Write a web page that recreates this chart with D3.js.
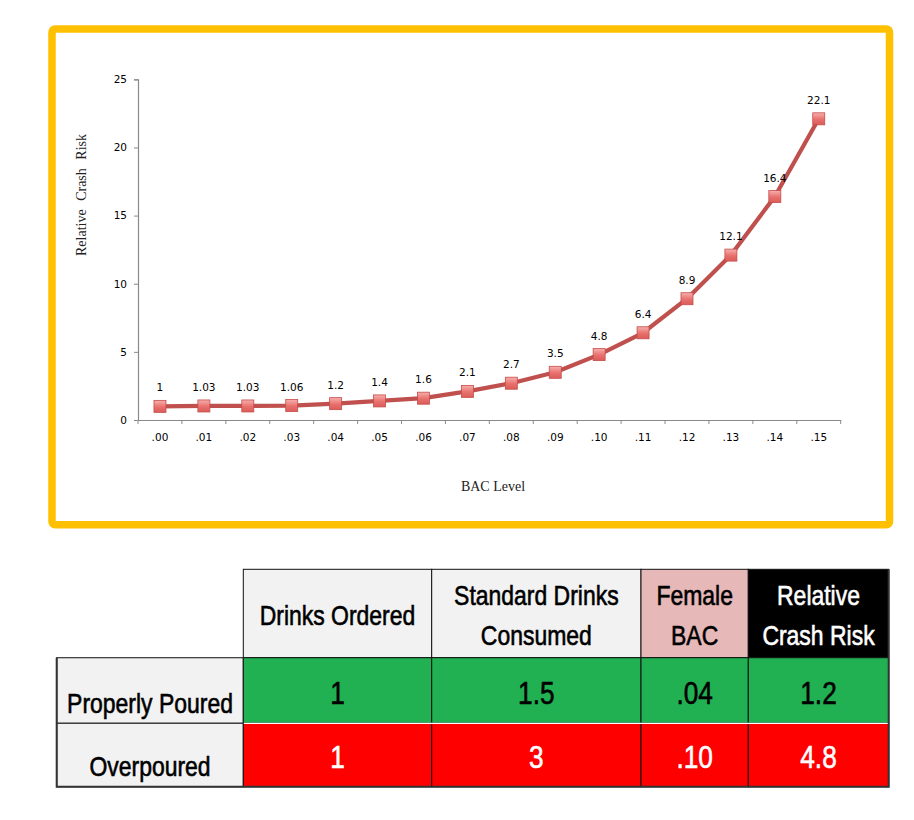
<!DOCTYPE html>
<html>
<head>
<meta charset="utf-8">
<script src="https://cdn.jsdelivr.net/npm/d3@7"></script>
<style>
  body { margin: 0; background: #fff; }
  svg { display: block; }
</style>
</head>
<body>
<svg id="chart"></svg>
<script>
// chart data
const bacLevels = [".00", ".01", ".02", ".03", ".04", ".05", ".06", ".07",
                   ".08", ".09", ".10", ".11", ".12", ".13", ".14", ".15"];
const crashRisk = [1, 1.03, 1.03, 1.06, 1.2, 1.4, 1.6, 2.1,
                   2.7, 3.5, 4.8, 6.4, 8.9, 12.1, 16.4, 22.1];
const yTicks = [0, 5, 10, 15, 20, 25];

// table data
const colHeaders = [["Drinks Ordered"], ["Standard Drinks", "Consumed"], ["Female", "BAC"], ["Relative", "Crash Risk"]];
const rowLabels = ["Properly Poured", "Overpoured"];
const tableValues = [["1", "1.5", ".04", "1.2"],
                     ["1", "3", ".10", "4.8"]];

const width = 914, height = 820;
const svg = d3.select("#chart").attr("width", width).attr("height", height);

// gradient for the square markers
const grad = svg.append("defs").append("linearGradient")
  .attr("id", "mk").attr("x1", 0).attr("y1", 0).attr("x2", 0).attr("y2", 1);
grad.append("stop").attr("offset", "0%").attr("stop-color", "#f7b0ae");
grad.append("stop").attr("offset", "55%").attr("stop-color", "#e8706d");
grad.append("stop").attr("offset", "100%").attr("stop-color", "#dc5c59");

// yellow frame
svg.append("rect")
  .attr("x", 52).attr("y", 29)
  .attr("width", 837.5).attr("height", 495.7)
  .attr("rx", 3)
  .attr("fill", "none")
  .attr("stroke", "#ffc000")
  .attr("stroke-width", 7.5);

let x = d3.scaleBand().domain(bacLevels).range([138, 840.7]);
let y = d3.scaleLinear().domain([0, 25]).range([420, 79.3]);

const axisColor = "#8a8a8a";
const tickFont = "'DejaVu Sans', sans-serif";

// x axis (labels centred in bands, ticks on band edges)
let gx = svg.append("g")
  .attr("transform", "translate(0,420)")
  .call(d3.axisBottom(x).tickSize(0).tickPadding(14));
gx.select(".domain").attr("stroke", axisColor).attr("stroke-width", 1.2);
gx.selectAll("text").attr("font-family", tickFont).attr("font-size", 10.5).attr("fill", "#000");

gx.selectAll(".edge")
  .data(bacLevels.map(d => x(d)).concat([x.range()[1]]))
  .enter()
  .append("line")
  .attr("x1", d => d).attr("x2", d => d)
  .attr("y1", 0).attr("y2", 4)
  .attr("stroke", axisColor);

// y axis
let gy = svg.append("g")
  .attr("transform", "translate(138,0)")
  .call(d3.axisLeft(y).tickValues(yTicks).tickSize(4).tickPadding(7));
gy.select(".domain").attr("stroke", axisColor).attr("stroke-width", 1.2);
gy.selectAll(".tick line").attr("stroke", axisColor);
gy.selectAll("text").attr("font-family", tickFont).attr("font-size", 10.5).attr("fill", "#000");

// axis titles
svg.append("text")
  .attr("transform", "translate(86,195) rotate(-90)")
  .attr("text-anchor", "middle")
  .attr("font-family", "'Liberation Serif', 'Times New Roman', serif")
  .attr("font-size", 14)
  .attr("word-spacing", 5)
  .attr("fill", "#222")
  .text("Relative Crash Risk");

svg.append("text")
  .attr("x", 493).attr("y", 491)
  .attr("text-anchor", "middle")
  .attr("font-family", "'Liberation Serif', 'Times New Roman', serif")
  .attr("font-size", 14)
  .attr("fill", "#222")
  .text("BAC Level");

// line + markers
const points = bacLevels.map((d, i) => ({ bac: d, risk: crashRisk[i] }));
const cx = d => x(d.bac) + x.bandwidth() / 2;

svg.append("path")
  .datum(points)
  .attr("fill", "none")
  .attr("stroke", "#c0504d")
  .attr("stroke-width", 4.2)
  .attr("stroke-linejoin", "round")
  .attr("d", d3.line().x(cx).y(d => y(d.risk)));

svg.append("g").selectAll("rect")
  .data(points)
  .enter()
  .append("rect")
  .attr("x", d => cx(d) - 6)
  .attr("y", d => y(d.risk) - 6)
  .attr("width", 12).attr("height", 12)
  .attr("fill", "url(#mk)")
  .attr("stroke", "#c44d4a")
  .attr("stroke-width", 0.8);

svg.append("g").selectAll("text")
  .data(points)
  .enter()
  .append("text")
  .attr("x", cx)
  .attr("y", d => y(d.risk) - 15)
  .attr("text-anchor", "middle")
  .attr("font-family", tickFont)
  .attr("font-size", 10.5)
  .attr("fill", "#000")
  .text(d => d.risk);

// ---- table below the chart ----
const colEdges = [56.7, 243.3, 431.7, 641, 748.3, 888.7];
const rowEdges = [569.3, 657.7, 723.3, 786.7];
const headerFill = ["#f2f2f2", "#f2f2f2", "#e6b8b7", "#000000"];
const headerInk = ["#000", "#000", "#000", "#fff"];
const rowFill = ["#21b052", "#ff0000"];
const rowInk = ["#000", "#fff"];
const tableFont = "'Liberation Sans', Arial, sans-serif";
const squeeze = 0.82; // narrow the glyphs to look like the condensed original

let table = svg.append("g");

function cellText(g, cxPos, baseline, str, size, ink) {
  g.append("text")
    .attr("transform", "translate(" + cxPos + "," + baseline + ") scale(" + squeeze + ",1)")
    .attr("text-anchor", "middle")
    .attr("font-family", tableFont)
    .attr("font-size", size)
    .attr("fill", ink)
    .attr("stroke", ink)
    .attr("stroke-width", 0.6)
    .text(str);
}

// header cells
colHeaders.forEach(function(lines, i) {
  let x0 = colEdges[i + 1], x1 = colEdges[i + 2];
  let y0 = rowEdges[0], y1 = rowEdges[1];
  table.append("rect")
    .attr("x", x0).attr("y", y0).attr("width", x1 - x0).attr("height", y1 - y0)
    .attr("fill", headerFill[i]).attr("stroke", "#111").attr("stroke-width", 1);
  let mid = (y0 + y1) / 2;
  lines.forEach(function(line, k) {
    let base = mid + 11.5 + (k - (lines.length - 1) / 2) * 40;
    cellText(table, (x0 + x1) / 2, base, line, 28, headerInk[i]);
  });
});

// body rows
rowLabels.forEach(function(label, r) {
  let y0 = rowEdges[r + 1], y1 = rowEdges[r + 2];
  table.append("rect")
    .attr("x", colEdges[0]).attr("y", y0)
    .attr("width", colEdges[1] - colEdges[0]).attr("height", y1 - y0)
    .attr("fill", "#f2f2f2").attr("stroke", "#333").attr("stroke-width", 1.2);
  cellText(table, (colEdges[0] + colEdges[1]) / 2, y1 - 10.5, label, 28, "#000");

  tableValues[r].forEach(function(v, c) {
    let x0 = colEdges[c + 1], x1 = colEdges[c + 2];
    table.append("rect")
      .attr("x", x0).attr("y", y0).attr("width", x1 - x0).attr("height", y1 - y0)
      .attr("fill", rowFill[r]).attr("stroke", "#111").attr("stroke-width", 1);
    cellText(table, (x0 + x1) / 2, (y0 + y1) / 2 + 13, v, 32, rowInk[r]);
  });
});

// thin white gap between green and red rows, darker outer edges
table.append("line")
  .attr("x1", colEdges[1] + 0.5).attr("x2", colEdges[5] - 0.5)
  .attr("y1", rowEdges[2]).attr("y2", rowEdges[2])
  .attr("stroke", "#fff").attr("stroke-width", 1.2);
table.append("path")
  .attr("d", "M" + colEdges[0] + "," + rowEdges[1] + "V" + rowEdges[3] + "H" + colEdges[5] + "V" + rowEdges[0])
  .attr("fill", "none").attr("stroke", "#333").attr("stroke-width", 2);
</script>
</body>
</html>
